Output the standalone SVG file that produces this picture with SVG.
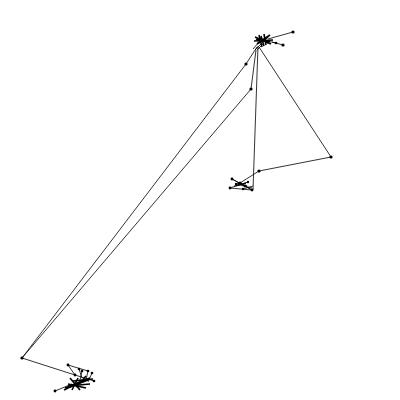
<svg xmlns="http://www.w3.org/2000/svg" width="400" height="400" viewBox="0 0 400 400">
<style>
.e{stroke:#000;stroke-width:0.8;fill:none}
.n{fill:#000}
.b{stroke:#000;stroke-width:1.6;fill:none}
</style>
<rect width="400" height="400" fill="#fff"/>
<g id="edges" class="e">
<line x1="22" y1="358" x2="246" y2="64"/>
<line x1="246" y1="64" x2="257" y2="47"/>
<line x1="22" y1="358" x2="251" y2="89"/>
<line x1="251" y1="89" x2="256" y2="50"/>
<line x1="258" y1="46" x2="253" y2="190"/>
<line x1="259" y1="47" x2="331" y2="157"/>
<line x1="331" y1="157" x2="259" y2="171"/>
<line x1="259" y1="171" x2="240" y2="183"/>
<line x1="22" y1="358" x2="75" y2="375"/>
<!-- top cluster -->
<line x1="268" y1="39" x2="293" y2="32"/>
<line x1="272" y1="42" x2="283" y2="45"/>
<line x1="262" y1="40" x2="276" y2="43"/>
<line x1="253" y1="49" x2="259" y2="42"/>
<line x1="255" y1="50" x2="262" y2="43"/>
<line x1="257" y1="50" x2="263" y2="44"/>
<!-- middle cluster -->
<line x1="232" y1="179" x2="252" y2="190"/>
<line x1="230" y1="188" x2="252" y2="190"/>
<line x1="230" y1="188" x2="248" y2="182"/>
<line x1="236" y1="184" x2="252" y2="188"/>
<line x1="232" y1="179" x2="245" y2="186"/>
<line x1="240" y1="183" x2="252" y2="190"/>
<line x1="234" y1="186" x2="246" y2="183"/>
<line x1="243" y1="189" x2="253" y2="186"/>
<!-- bottom cluster -->
<line x1="68" y1="365" x2="75" y2="375"/>
<line x1="68" y1="365" x2="88" y2="371"/>
<line x1="79" y1="369" x2="82" y2="378"/>
<line x1="82" y1="371" x2="80" y2="380"/>
<line x1="88" y1="371" x2="86" y2="380"/>
<line x1="92" y1="373" x2="88" y2="382"/>
<line x1="75" y1="375" x2="94" y2="381"/>
<line x1="55" y1="391" x2="72" y2="384"/>
</g>
<g id="top-cluster" class="b">
<line x1="255" y1="37" x2="271" y2="44"/>
<line x1="257" y1="44" x2="270" y2="35"/>
<line x1="259" y1="35" x2="262" y2="47"/>
<line x1="254" y1="41" x2="273" y2="40"/>
<line x1="260" y1="38" x2="268" y2="43"/>
<line x1="264" y1="34" x2="266" y2="45"/>
<line x1="256" y1="39" x2="270" y2="42"/>
<line x1="258" y1="43" x2="268" y2="37"/>
<line x1="261" y1="36" x2="264" y2="46"/>
</g>
<g id="mid-cluster" class="b" style="stroke-width:1.2">
<line x1="237" y1="183" x2="247" y2="186"/>
<line x1="236" y1="186" x2="246" y2="183"/>
</g>
<g id="bottom-cluster" class="b">
<line x1="65" y1="388" x2="90" y2="378"/>
<line x1="68" y1="384" x2="86" y2="388"/>
<line x1="70" y1="378" x2="80" y2="390"/>
<line x1="64" y1="390" x2="84" y2="380"/>
<line x1="73" y1="381" x2="93" y2="379"/>
<line x1="76" y1="387" x2="86" y2="376"/>
<line x1="68" y1="386" x2="90" y2="384"/>
<line x1="72" y1="390" x2="78" y2="378"/>
<line x1="70" y1="387" x2="88" y2="380"/>
</g>
<g id="nodes" class="n">
<circle cx="22" cy="358" r="1.6"/>
<circle cx="246" cy="64" r="1.6"/>
<circle cx="251" cy="89" r="1.6"/>
<circle cx="331" cy="157" r="1.6"/>
<circle cx="259" cy="171" r="1.6"/>
<circle cx="293" cy="32" r="1.6"/>
<circle cx="283" cy="45" r="1.6"/>
<circle cx="276" cy="43" r="1.3"/>
<circle cx="240" cy="183" r="1.6"/>
<circle cx="232" cy="179" r="1.4"/>
<circle cx="230" cy="188" r="1.4"/>
<circle cx="252" cy="190" r="1.4"/>
<circle cx="245" cy="186" r="1.4"/>
<circle cx="248" cy="182" r="1.2"/>
<circle cx="243" cy="189" r="1.2"/>
<circle cx="236" cy="184" r="1.2"/>
<circle cx="68" cy="365" r="1.4"/>
<circle cx="79" cy="369" r="1.3"/>
<circle cx="82" cy="371" r="1.3"/>
<circle cx="88" cy="371" r="1.3"/>
<circle cx="92" cy="373" r="1.3"/>
<circle cx="75" cy="375" r="1.4"/>
<circle cx="94" cy="381" r="1.3"/>
<circle cx="55" cy="391" r="1.4"/>
</g>
</svg>
